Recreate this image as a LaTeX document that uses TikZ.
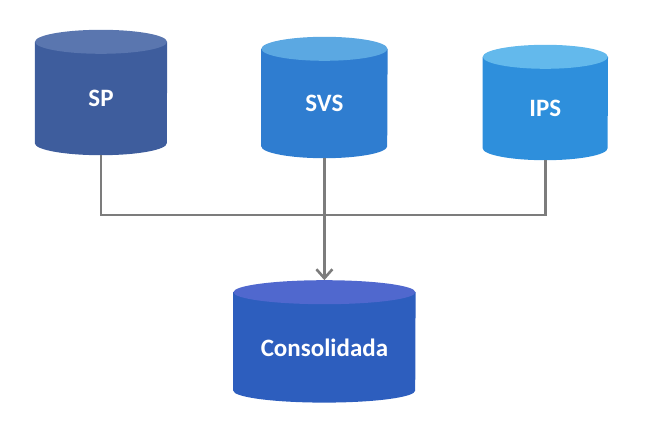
\documentclass[tikz,border=0pt]{standalone}
\usepackage{fontspec}
\setmainfont{Carlito}
\usetikzlibrary{positioning, arrows.meta, backgrounds}

\definecolor{spbody}{HTML}{3E5D9D}
\definecolor{sptop}{HTML}{5A76AF}
\definecolor{svsbody}{HTML}{2F7DD0}
\definecolor{svstop}{HTML}{5BA8E2}
\definecolor{ipsbody}{HTML}{2E8FDC}
\definecolor{ipstop}{HTML}{63B9EC}
\definecolor{conbody}{HTML}{2D5EBE}
\definecolor{contop}{HTML}{5068CE}
\definecolor{wire}{HTML}{7C7C7C}

\tikzset{
  base/.style={rectangle, inner sep=0pt, text=white,
    font=\bfseries\fontsize{25}{29}\selectfont},
  wireline/.style={draw=wire, line width=2.6pt}
}

% drum body under a named node: node, half width, body colour, top colour
\newcommand{\drum}[4]{%
  \fill[#3] (#1.north west) -- ([yshift=12pt]#1.south west)
      arc[start angle=180, end angle=360, x radius=#2, y radius=12pt]
      -- (#1.north east) -- cycle;
  \fill[#4] (#1.north) ellipse[x radius=#2, y radius=12pt];
}

\begin{document}
\begin{tikzpicture}[x=1pt, y=1pt]
            \useasboundingbox (0,0) rectangle (645,429);
            \node (SP) [base, minimum width=132pt, minimum height=113pt] at (101,330.5) {SP};
            \node (SVS) [base, right=94pt of SP, yshift=-5pt, minimum width=126pt, minimum height=109pt] {SVS};
            \node (IPS) [base, right=95pt of SVS, yshift=-5pt, minimum width=125pt, minimum height=103pt] {IPS};
            \node (CON) [base, below=134pt of SVS, minimum width=182pt, minimum height=110pt] {Consolidada};
            \coordinate (CONtop) at ([yshift=12pt]CON.north);

            \begin{scope}[on background layer]
                \drum{SP}{66pt}{spbody}{sptop}
                \drum{SVS}{63pt}{svsbody}{svstop}
                \drum{IPS}{62.5pt}{ipsbody}{ipstop}
                \drum{CON}{91pt}{conbody}{contop}
            \end{scope}

            \coordinate (bus) at (0,214);
            \path[wireline]
                (SP.south) -- (SP.south |- bus) -- (IPS.south |- bus) -- (IPS.south);
            \path[wireline, -{Straight Barb[length=9pt, width=16pt]}]
                (SVS.south) -- (SVS.south |- CONtop);
        \end{tikzpicture}
\end{document}
